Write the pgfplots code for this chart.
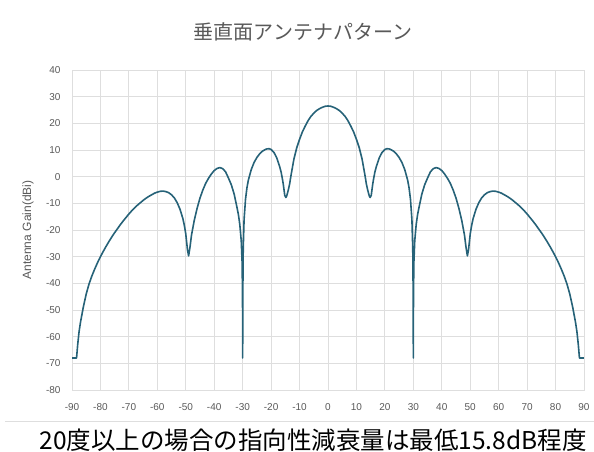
\documentclass[border=0pt]{standalone}
\usepackage{fontspec}
\setmainfont{Liberation Sans}
\newfontfamily\cjk{Noto Sans CJK JP}
\usepackage{pgfplots}
\pgfplotsset{compat=1.18}
\definecolor{gridc}{RGB}{222,222,222}
\definecolor{labc}{RGB}{89,89,89}
\definecolor{curvec}{RGB}{38,98,120}
\begin{document}
\begin{tikzpicture}[x=1pt,y=1pt]
\useasboundingbox (0,0) rectangle (594,452);
\begin{axis}[
  at={(72pt,62pt)}, anchor=south west,
  scale only axis, width=512pt, height=320pt,
  xmin=-90, xmax=90, ymin=-80, ymax=40,
  xtick={-90,-80,...,90}, ytick={-80,-70,...,40},
  grid=major, major grid style={draw=gridc, line width=0.8pt},
  axis line style={draw=gridc, line width=0.8pt},
  major tick length=0pt,
  /pgf/number format/assume math mode=true,
  ticklabel style={font=\fontsize{10}{11}\selectfont, text=labc},
  xticklabel style={yshift=-10pt},
  yticklabel style={xshift=-8pt},
  clip=false,
]
\addplot[curvec, line width=1.6pt, line join=round] coordinates {
(-90,-68) (-88.4,-68) (-88,-63) (-87.5,-58) (-87,-54.5) (-86,-48.8) (-85,-44.0) (-84,-40.2) (-83,-37.2) (-82,-34.6) (-81,-32.2) (-80,-30.0) (-79,-28.0) (-78,-26.1) (-77,-24.3) (-76,-22.6) (-75,-21.0) (-74,-19.5) (-73,-18.0) (-72,-16.6) (-71,-15.3) (-70,-14.0) (-69,-12.8) (-68,-11.7) (-67,-10.7) (-66,-9.8) (-65,-8.9) (-64,-8.1) (-63,-7.4) (-62,-6.8) (-61,-6.2) (-60,-5.8) (-59,-5.5) (-58,-5.4) (-57,-5.6) (-56,-6.0) (-55,-6.8) (-54,-8.0) (-53,-9.8) (-52,-12.3) (-51,-15.8) (-50.5,-18.3) (-50,-21.5) (-49.4,-27.5) (-49,-29.7) (-48.5,-26.3) (-48,-22.0) (-47,-16.3) (-46,-11.8) (-45,-8.0) (-44,-5.0) (-43,-2.5) (-42,-0.6) (-41,1.0) (-40,2.3) (-39,3.1) (-38,3.4) (-37,3.0) (-36,1.8) (-35,-0.5) (-34,-3.0) (-33,-6.5) (-32,-11.5) (-31.5,-14.2) (-31,-18) (-30.5,-24) (-30.2,-32) (-30.05,-45) (-30,-68) (-29.95,-45) (-29.8,-27) (-29.5,-16) (-29,-8.5) (-28.5,-4.2) (-28,-1.3) (-27,2.6) (-26,5.3) (-25,7.2) (-24,8.6) (-23,9.6) (-22,10.2) (-21.5,10.4) (-20.7,10.5) (-20,10.2) (-19,9.1) (-18,7.0) (-17,3.8) (-16.5,1.8) (-16,-1.0) (-15.7,-3.0) (-15.2,-7.0) (-14.8,-7.8) (-14.5,-7.2) (-14,-5.2) (-13.5,-2.8) (-13,0.5) (-12,6.5) (-11,10.8) (-10,14.0) (-9,16.8) (-8,19.0) (-7,21.0) (-6,22.6) (-5,23.8) (-4,24.8) (-3,25.5) (-2,26.0) (-1,26.4) (0,26.5)
(1,26.4) (2,26.0) (3,25.5) (4,24.8) (5,23.8) (6,22.6) (7,21.0) (8,19.0) (9,16.8) (10,14.0) (11,10.8) (12,6.5) (13,0.5) (13.5,-2.8) (14,-5.2) (14.5,-7.2) (14.8,-7.8) (15.2,-7.0) (15.7,-3.0) (16,-1.0) (16.5,1.8) (17,3.8) (18,7.0) (19,9.1) (20,10.2) (20.7,10.5) (21.5,10.4) (22,10.2) (23,9.6) (24,8.6) (25,7.2) (26,5.3) (27,2.6) (28,-1.3) (28.5,-4.2) (29,-8.5) (29.5,-16) (29.8,-27) (29.95,-45) (30,-68) (30.05,-45) (30.2,-32) (30.5,-24) (31,-18) (31.5,-14.2) (32,-11.5) (33,-6.5) (34,-3.0) (35,-0.5) (36,1.8) (37,3.0) (38,3.4) (39,3.1) (40,2.3) (41,1.0) (42,-0.6) (43,-2.5) (44,-5.0) (45,-8.0) (46,-11.8) (47,-16.3) (48,-22.0) (48.5,-26.3) (49,-29.7) (49.4,-27.5) (50,-21.5) (50.5,-18.3) (51,-15.8) (52,-12.3) (53,-9.8) (54,-8.0) (55,-6.8) (56,-6.0) (57,-5.6) (58,-5.4) (59,-5.5) (60,-5.8) (61,-6.2) (62,-6.8) (63,-7.4) (64,-8.1) (65,-8.9) (66,-9.8) (67,-10.7) (68,-11.7) (69,-12.8) (70,-14.0) (71,-15.3) (72,-16.6) (73,-18.0) (74,-19.5) (75,-21.0) (76,-22.6) (77,-24.3) (78,-26.1) (79,-28.0) (80,-30.0) (81,-32.2) (82,-34.6) (83,-37.2) (84,-40.2) (85,-44.0) (86,-48.8) (87,-54.5) (87.5,-58) (88,-63) (88.4,-68) (90,-68)
};
\end{axis}
\node[text=labc, font=\cjk\fontsize{20}{22}\selectfont] at (303,420) {垂直面アンテナパターン};
\node[text=labc, rotate=90, font=\fontsize{12}{14}\selectfont] at (28,222) {Antenna Gain(dBi)};
\draw[gridc, line width=0.8pt] (5,30.5) -- (594,30.5);
\node[text=black, font=\cjk\fontsize{24.5}{26}\selectfont] at (313,12) {20度以上の場合の指向性減衰量は最低15.8dB程度};
\end{tikzpicture}
\end{document}
